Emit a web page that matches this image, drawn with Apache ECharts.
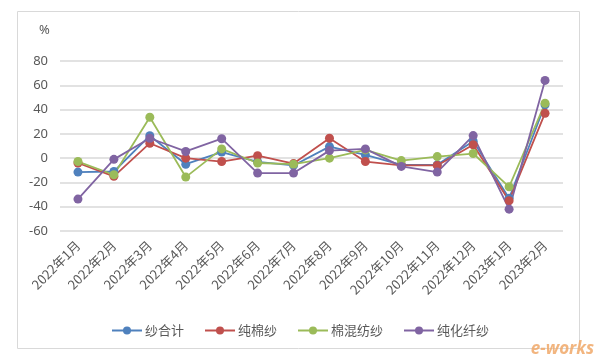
<!DOCTYPE html>
<html><head><meta charset="utf-8">
<script src="https://cdn.jsdelivr.net/npm/echarts@6/dist/echarts.min.js"></script>
<style>html,body{margin:0;padding:0;background:#fff}#c{width:600px;height:363px}</style>
</head><body><div id="c"></div>
<script>
const categories = ['2022年1月','2022年2月','2022年3月','2022年4月','2022年5月','2022年6月','2022年7月','2022年8月','2022年9月','2022年10月','2022年11月','2022年12月','2023年1月','2023年2月'];
const seriesNames = ['纱合计','纯棉纱','棉混纺纱','纯化纤纱'];
const yarnTotal = [-11.5, -11, 18.5, -5, 5, -3, -6, 9.5, 2.7, -5.5, -5.5, 14, -33, 44];
const pureCotton = [-4, -15, 12.3, 0, -2.8, 2, -4.5, 16.4, -2.8, -6, -6, 11, -35, 37];
const cottonBlend = [-2.8, -13.7, 33.7, -15.6, 7.6, -4, -5, 0, 6.8, -2, 1.3, 3.8, -23.6, 45.2];
const pureChemical = [-33.7, -1, 16.4, 5.5, 16, -12.3, -12.3, 6.2, 7.6, -6.8, -11.5, 18.6, -42, 64];
const yTicks = {min: -60, max: 80, interval: 20};
const colors = ['#4f81bd','#c0504d','#9bbb59','#8064a2'];
const allData = [yarnTotal, pureCotton, cottonBlend, pureChemical];

const chart = echarts.init(document.getElementById('c'));
chart.setOption({
  animation: false,
  color: colors,
  textStyle: {fontFamily: '"Noto Sans CJK SC", "Noto Sans", sans-serif'},
  graphic: [
    {type: 'rect', shape: {x: 17.5, y: 11.5, width: 562, height: 337}, style: {fill: 'none', stroke: '#d9d9d9', lineWidth: 1}, z: -1},
    {type: 'text', left: 39, top: 24, style: {text: '%', fill: '#595959', fontSize: 13, fontFamily: '"Noto Sans", sans-serif'}},
    {type: 'text', right: 6, bottom: 5, style: {text: 'e-works', fill: '#f0a868', fontSize: 17, fontStyle: 'italic', fontWeight: 'bold', fontFamily: '"Noto Sans", sans-serif', opacity: 0.85}}
  ],
  grid: {left: 60, right: 37, top: 61, bottom: 132, containLabel: false},
  legend: {
    data: seriesNames, top: 319, left: 'center', itemWidth: 30, itemHeight: 10, itemGap: 20,
    textStyle: {color: '#595959', fontSize: 13, padding: [0, 0, 0, -2]}
  },
  xAxis: {
    type: 'category', data: categories, boundaryGap: true,
    axisLine: {show: false}, axisTick: {show: false},
    axisLabel: {rotate: 45, color: '#595959', fontSize: 13, margin: 12, interval: 0, fontFamily: '"Noto Sans CJK SC", sans-serif'}
  },
  yAxis: {
    type: 'value', min: yTicks.min, max: yTicks.max, interval: yTicks.interval,
    axisLine: {show: false}, axisTick: {show: false},
    axisLabel: {color: '#595959', fontSize: 13, margin: 12, fontFamily: '"Noto Sans", sans-serif'},
    splitLine: {lineStyle: {color: '#d9d9d9', width: 1.5}}
  },
  series: seriesNames.map((n, i) => ({
    name: n, type: 'line', data: allData[i],
    symbol: 'circle', symbolSize: 9,
    lineStyle: {width: 1.8, color: colors[i]},
    itemStyle: {color: colors[i]}
  }))
});
</script></body></html>
